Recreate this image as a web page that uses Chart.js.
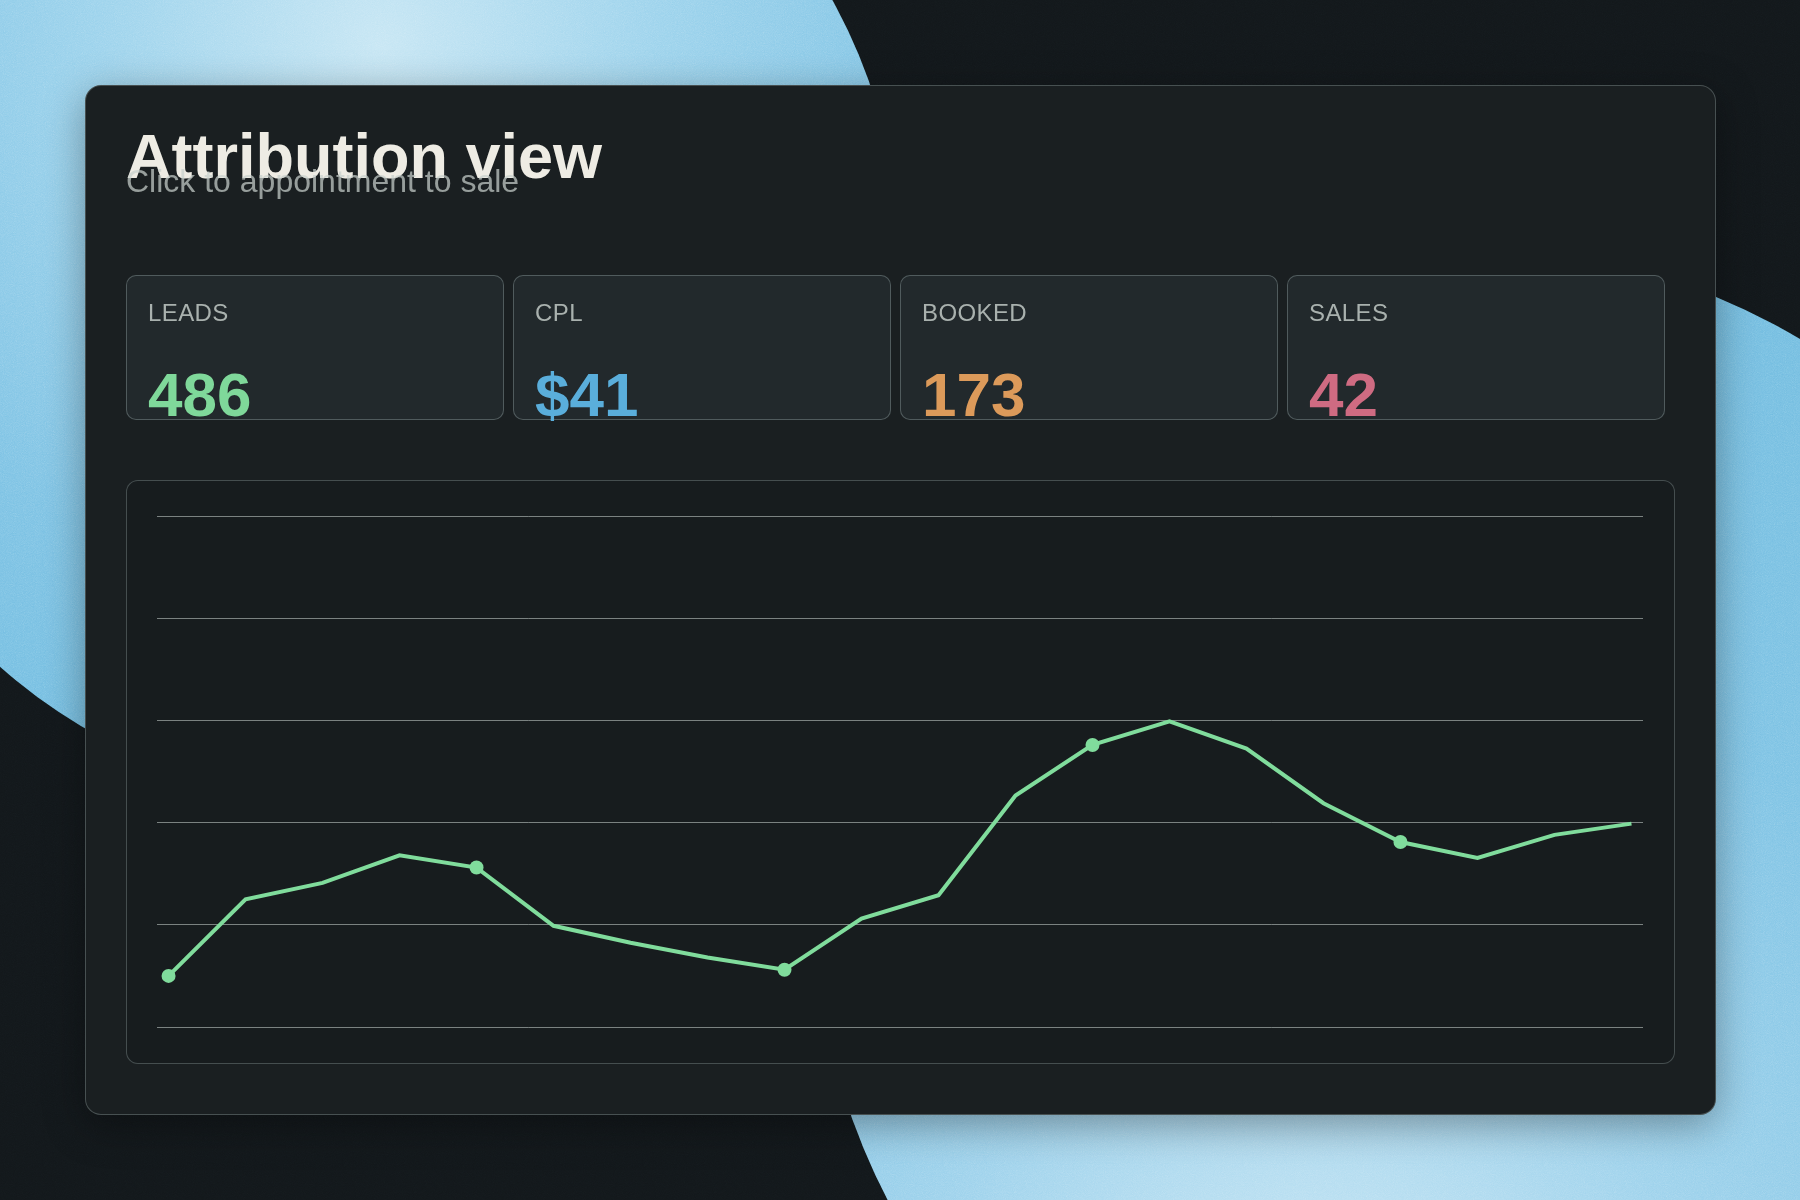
<!DOCTYPE html>
<html>
<head>
<meta charset="utf-8">
<script src="https://cdn.jsdelivr.net/npm/chart.js@4/dist/chart.umd.min.js"></script>
<style>
  html, body { margin: 0; padding: 0; }
  body {
    width: 1800px; height: 1200px; overflow: hidden; position: relative;
    background: #12171a;
    font-family: "Liberation Sans", Arial, sans-serif;
  }
  .blob { position: absolute; border-radius: 50%; }
  #blobA {
    left: -182px; top: -279px; width: 1082px; height: 1082px;
    background: radial-gradient(circle at 52% 30%, #c6e6f4 0%, #9ad2ec 30%, #7cc2e4 60%, #6cb9df 100%);
  }
  #blobB {
    left: 814px; top: 247px; width: 1304px; height: 1304px;
    background: radial-gradient(circle at 38% 88%, #d0eaf6 0%, #9dd2ec 28%, #7cc2e4 55%, #6db9de 100%);
  }
  .noise {
    position: absolute; inset: 0; opacity: 0.35; pointer-events: none;
    mix-blend-mode: overlay;
    background-image: url("data:image/svg+xml;utf8,<svg xmlns='http://www.w3.org/2000/svg' width='300' height='300'><filter id='n'><feTurbulence type='fractalNoise' baseFrequency='1.1' numOctaves='2' stitchTiles='stitch'/><feColorMatrix type='saturate' values='0'/></filter><rect width='100%' height='100%' filter='url(%23n)'/></svg>");
  }
  .card {
    position: absolute; left: 85px; top: 85px; width: 1629px; height: 1028px;
    background: #1a1f21; border: 1px solid rgba(190, 210, 210, 0.28);
    border-radius: 16px;
    box-shadow: 0 10px 40px rgba(0,0,0,0.35);
  }
  .title {
    position: absolute; left: 126px; top: 124px; margin: 0;
    font-size: 63px; line-height: 64px; font-weight: bold; color: #eeece4;
    white-space: nowrap;
  }
  .subtitle {
    position: absolute; left: 126px; top: 165px; margin: 0;
    font-size: 32px; line-height: 32px; color: rgba(200, 208, 204, 0.72);
    white-space: nowrap;
  }
  .kpi {
    position: absolute; top: 275px; width: 376px; height: 143px;
    background: #22292c; border: 1px solid rgba(190, 210, 210, 0.3);
    border-radius: 10px;
  }
  .kpi .lab {
    position: absolute; left: 21px; top: 22px;
    font-size: 24px; line-height: 30px; color: #a9b1ae; letter-spacing: 0.4px;
  }
  .kpi .val {
    position: absolute; left: 21px; top: 84px;
    font-size: 62px; line-height: 70px; font-weight: bold;
  }
  .chartbox {
    position: absolute; left: 126px; top: 480px; width: 1547px; height: 582px;
    background: #171c1e; border: 1px solid rgba(190, 210, 210, 0.28);
    border-radius: 12px;
  }
  .chartbox canvas { position: absolute; left: 0; top: 0; }
</style>
</head>
<body>
<div class="blob" id="blobA"></div>
<div class="blob" id="blobB"></div>
<div class="noise"></div>

<div class="card"></div>
<div class="title">Attribution view</div>
<div class="subtitle">Click to appointment to sale</div>

<div id="kpis"></div>

<div class="chartbox"><canvas id="trend" width="1547" height="582"></canvas></div>

<script>
// KPI tiles
const kpiLabels = ['LEADS', 'CPL', 'BOOKED', 'SALES'];
const kpiValues = ['486', '$41', '173', '42'];
const kpiColors = ['#7fd89a', '#5aaedb', '#dc9a5a', '#cf6b82'];

// trend series (20 periods)
const periods = ['P1', 'P2', 'P3', 'P4', 'P5', 'P6', 'P7', 'P8', 'P9', 'P10',
                 'P11', 'P12', 'P13', 'P14', 'P15', 'P16', 'P17', 'P18', 'P19', 'P20'];
const trendValues = [10, 25, 28.2, 33.6, 31.2, 19.8, 16.5, 13.6, 11.2, 21.2,
                     25.8, 45.3, 55.2, 59.8, 54.5, 43.8, 36.2, 33.1, 37.6, 39.8];
const yTicks = [0, 20, 40, 60, 80, 100];

const wrap = document.getElementById('kpis');
kpiLabels.forEach((lab, i) => {
  const d = document.createElement('div');
  d.className = 'kpi';
  d.style.left = (126 + i * 387) + 'px';
  d.innerHTML = '<div class="lab">' + lab + '</div><div class="val" style="color:' +
    kpiColors[i] + '">' + kpiValues[i] + '</div>';
  wrap.appendChild(d);
});

const ctx = document.getElementById('trend').getContext('2d');
new Chart(ctx, {
  type: 'line',
  data: {
    labels: periods,
    datasets: [{
      label: 'Leads',
      data: trendValues.map((v, i) => ({ x: i, y: v })),
      borderColor: '#80dc9c',
      backgroundColor: '#80dc9c',
      borderWidth: 4,
      tension: 0,
      fill: false,
      pointRadius: c => (c.dataIndex % 4 === 0 ? 7 : 0),
      pointHoverRadius: 7,
      pointBorderWidth: 0
    }]
  },
  options: {
    responsive: false,
    animation: false,
    layout: { padding: { left: 30, right: 31, top: 35, bottom: 28 } },
    plugins: { legend: { display: false }, tooltip: { enabled: false } },
    scales: {
      x: {
        type: 'linear', min: -0.15, max: 19.15,
        ticks: { display: false },
        grid: { display: false },
        border: { display: false }
      },
      y: {
        min: yTicks[0], max: yTicks[yTicks.length - 1],
        afterBuildTicks: axis => { axis.ticks = yTicks.map(v => ({ value: v })); },
        ticks: { display: false },
        grid: { color: 'rgba(205, 215, 212, 0.55)', lineWidth: 1, drawTicks: false },
        border: { display: false }
      }
    }
  }
});
</script>
</body>
</html>
